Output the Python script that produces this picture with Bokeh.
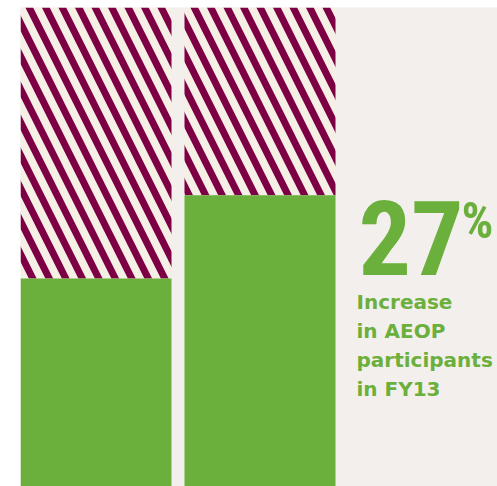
from bokeh.plotting import figure
from bokeh.models import Range1d, Label
from bokeh.embed import file_html
from bokeh.resources import INLINE

# Data (scale 0-100 of the full bar height)
categories = ["FY12", "FY13"]
full_values = [100, 100]
participant_values = [43.4, 60.8]
big_number = "27"
big_suffix = "%"
caption_lines = ["Increase", "in AEOP", "participants", "in FY13"]

GREEN = "#6baf3c"
MAROON = "#7c0043"
CREAM = "#f6efe6"
BG = "#f3efec"

W, H = 497, 486
LEFT, TOP = 20, 7
frame_w = W - LEFT
frame_h = H - TOP
step_px = 164.0
bar_px = 151.0
x_start = -(bar_px / 2) / step_px
x_end = x_start + frame_w / step_px

p = figure(width=W, height=H, output_backend="svg", toolbar_location=None,
           x_range=Range1d(x_start, x_end), y_range=Range1d(0, 100),
           min_border_left=LEFT, min_border_top=TOP, min_border_right=0,
           min_border_bottom=0)
p.axis.visible = False
p.grid.visible = False
p.outline_line_color = None
p.background_fill_color = BG
p.border_fill_color = "white"

xs = list(range(len(categories)))
bw = bar_px / step_px
p.vbar(x=xs, top=full_values, bottom=participant_values, width=bw, fill_color=CREAM,
       line_color=None, hatch_pattern="\\", hatch_color=MAROON, hatch_scale=33,
       hatch_weight=7)
p.vbar(x=xs, top=participant_values, width=bw, fill_color=GREEN, line_color=None)


def dx(px):
    return (px - LEFT) / step_px + x_start


def dy(py):
    return (H - py) / frame_h * 100


COND = "Roboto Condensed, DejaVu Sans Condensed, sans-serif"
big_size = 104
pct_size = 50
cap_size = 20
p.add_layout(Label(x=dx(358), y=dy(272 - 0.33 * big_size), text=big_number, text_font=COND,
                   text_font_style="bold", text_font_size=f"{big_size}px", text_color=GREEN,
                   text_baseline="alphabetic"))
p.add_layout(Label(x=dx(461), y=dy(237 - 0.33 * pct_size), text=big_suffix, text_font=COND,
                   text_font_style="bold", text_font_size=f"{pct_size}px", text_color=GREEN,
                   text_baseline="alphabetic"))
baselines = [308, 337, 366, 395]
for line, b in zip(caption_lines, baselines):
    p.add_layout(Label(x=dx(356), y=dy(b - 0.35 * cap_size), text=line, text_font="DejaVu Sans",
                       text_font_style="bold", text_font_size=f"{cap_size}px", text_color=GREEN,
                       text_baseline="alphabetic"))

open("out.html", "w").write(file_html(p, INLINE))
